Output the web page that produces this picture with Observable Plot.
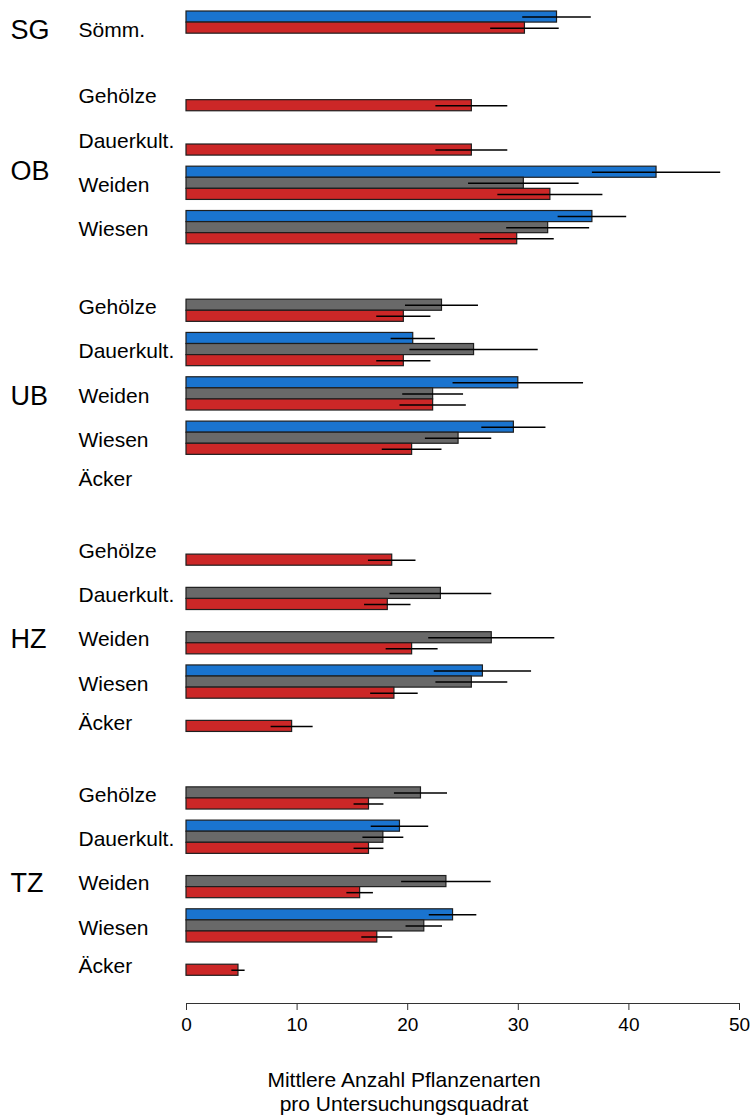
<!DOCTYPE html>
<html>
<head>
<meta charset="utf-8">
<script src="https://cdn.jsdelivr.net/npm/d3@7"></script>
<script src="https://cdn.jsdelivr.net/npm/@observablehq/plot@0.6"></script>
<style>
  body { margin: 0; background: #fff; overflow: hidden; font-family: "Liberation Sans", Arial, sans-serif; }
  #wrap { position: relative; width: 752px; height: 1118px; }
  #xtitle { position: absolute; left: 404px; top: 1068px; transform: translateX(-50%); text-align: center;
            white-space: nowrap; font-size: 21px; line-height: 24px; color: #000; }
</style>
</head>
<body>
<div id="wrap">
  <div id="chart"></div>
  <div id="xtitle">Mittlere Anzahl Pflanzenarten<br>pro Untersuchungsquadrat</div>
</div>
<script>
// ---- data ----
const rowGroup = ["SG","OB","OB","OB","OB","UB","UB","UB","UB","UB","HZ","HZ","HZ","HZ","HZ","TZ","TZ","TZ","TZ","TZ"];
const rowHabitat = ["Sömm.","Gehölze","Dauerkult.","Weiden","Wiesen",
                    "Gehölze","Dauerkult.","Weiden","Wiesen","Äcker",
                    "Gehölze","Dauerkult.","Weiden","Wiesen","Äcker",
                    "Gehölze","Dauerkult.","Weiden","Wiesen","Äcker"];
const seriesNames = ["blau","grau","rot"];
const blauMean = [33.5, null, null, 42.5, 36.7, null, 20.5, 30.0, 29.6, null, null, null, null, 26.8, null, null, 19.3, null, 24.1, null];
const blauErr  = [3.1,  null, null, 5.8,  3.1,  null, 2.0,  5.9,  2.9,  null, null, null, null, 4.4,  null, null, 2.6,  null, 2.15, null];
const grauMean = [null, null, null, 30.5, 32.7, 23.1, 26.0, 22.3, 24.6, null, null, 23.0, 27.6, 25.8, null, 21.2, 17.8, 23.5, 21.5, null];
const grauErr  = [null, null, null, 5.0,  3.75, 3.3,  5.8,  2.75, 3.0,  null, null, 4.6,  5.7,  3.25, null, 2.4,  1.85, 4.05, 1.65, null];
const rotMean  = [30.6, 25.8, 25.8, 32.9, 29.9, 19.65, 19.65, 22.3, 20.4, null, 18.6, 18.2, 20.4, 18.8, 9.55, 16.5, 16.5, 15.7, 17.25, 4.7];
const rotErr   = [3.1,  3.25, 3.25, 4.75, 3.35, 2.45, 2.45, 3.0,  2.7,  null, 2.15, 2.1,  2.35, 2.15, 1.9,  1.35, 1.35, 1.2,  1.4,  0.6];
const xTicks = [0, 10, 20, 30, 40, 50];

// series slots per habitat (structure)
const slotSeriesFor = h => h === "Sömm." ? ["blau","rot"] : h === "Äcker" ? ["grau","rot"] : ["blau","grau","rot"];
const means = {blau: blauMean, grau: grauMean, rot: rotMean};
const errs  = {blau: blauErr,  grau: grauErr,  rot: rotErr};

// ---- layout in bar units ----
const SLOT_GAP = 1, GROUP_GAP = 4, END_PAD = 2.5;
let u = 0, prev = null;
const slots = [];
rowGroup.forEach((g, i) => {
  if (prev !== null) u += (g !== prev) ? GROUP_GAP : SLOT_GAP;
  const ser = slotSeriesFor(rowHabitat[i]);
  slots.push({group: g, habitat: rowHabitat[i], start: u, n: ser.length, ser, i});
  u += ser.length;
  prev = g;
});
const yEnd = u + END_PAD;

const bars = [];
slots.forEach(s => s.ser.forEach((k, j) => {
  const v = means[k][s.i];
  if (v == null) return;
  bars.push({series: k, y1: s.start + j, y2: s.start + j + 1, x: v, err: errs[k][s.i]});
}));

const labelShift = h => h === "Sömm." ? 0.5 : 0;
const labelY = s => s.start + s.n / 2 + labelShift(s.habitat);
const groupAnchor = {SG: "Sömm.", OB: "Weiden", UB: "Weiden", HZ: "Weiden", TZ: "Weiden"};
const groupShift = {OB: -1.25};
const groupLabels = [...new Set(rowGroup)].map(g => {
  const s = slots.find(d => d.group === g && d.habitat === groupAnchor[g]);
  return {group: g, y: labelY(s) + (groupShift[g] || 0)};
});

const H = 1050;
const chart = Plot.plot({
  width: 752,
  height: H,
  marginLeft: 186,
  marginRight: 13,
  marginTop: 11,
  marginBottom: H - 1003,
  x: {domain: [0, 50]},
  y: {domain: [0, yEnd], reverse: true, axis: null},
  color: {domain: seriesNames, range: ["#1a74cf", "#696969", "#cc2727"]},
  style: {fontFamily: "'Liberation Sans', Arial, sans-serif", fontSize: "19px", color: "#000", background: "#fff", overflow: "visible"},
  marks: [
    Plot.rect(bars, {x1: 0, x2: "x", y1: "y1", y2: "y2", fill: "series", stroke: "#1e1e1e", strokeWidth: 1.2}),
    Plot.ruleY(bars, {y: d => (d.y1 + d.y2) / 2, x1: d => d.x - d.err, x2: d => d.x + d.err, stroke: "#000", strokeWidth: 1.5}),
    Plot.ruleY([yEnd], {x1: 0, x2: 50, stroke: "#333", strokeWidth: 1.2}),
    Plot.axisX({ticks: xTicks, tickSize: 7, tickPadding: 7, fontSize: 19, label: null, stroke: "#333"}),
    Plot.text(slots, {y: labelY, text: "habitat", frameAnchor: "left", textAnchor: "start", dx: -108, dy: 2, fontSize: 21, fill: "#000"}),
    Plot.text(groupLabels, {y: "y", text: "group", frameAnchor: "left", textAnchor: "start", dx: -176, dy: 2, fontSize: 27, fill: "#000"})
  ]
});
document.getElementById("chart").appendChild(chart);
</script>
</body>
</html>
